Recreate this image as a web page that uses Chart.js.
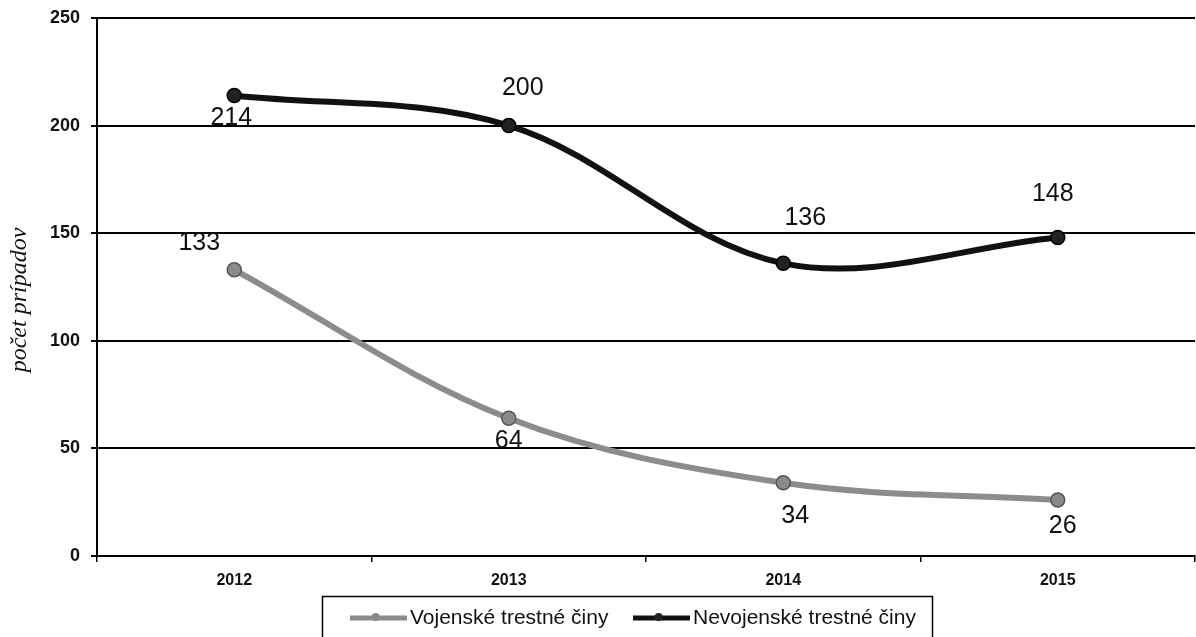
<!DOCTYPE html>
<html>
<head>
<meta charset="utf-8">
<script src="https://cdn.jsdelivr.net/npm/chart.js@4.4.1/dist/chart.umd.min.js"></script>
<style>
  html, body { margin: 0; padding: 0; background: #fff; overflow: hidden; }
  #wrap { width: 1196px; height: 637px; }
  canvas { display: block; }
</style>
</head>
<body>
<div id="wrap"><canvas id="c" width="1196" height="637"></canvas></div>
<script>
const categories = ['2012', '2013', '2014', '2015'];
const vojenske = [133, 64, 34, 26];
const nevojenske = [214, 200, 136, 148];
const seriesNames = ['Vojenské trestné činy', 'Nevojenské trestné činy'];
const yTicks = [0, 50, 100, 150, 200, 250];
const yTitle = 'počet prípadov';

// label placement offsets (px) relative to each point
const labelOffsets = [
  [[-35, -27], [0, 23], [12, 33], [5, 26]],
  [[-3, 23], [14, -37], [22, -45], [-5, -43]]
];

const dataLabelPlugin = {
  id: 'dataLabels',
  afterDatasetsDraw(chart) {
    const ctx = chart.ctx;
    ctx.save();
    ctx.font = '25px "Liberation Sans", Arial, sans-serif';
    ctx.fillStyle = '#111';
    ctx.textAlign = 'center';
    ctx.textBaseline = 'middle';
    chart.data.datasets.forEach((ds, di) => {
      const meta = chart.getDatasetMeta(di);
      meta.data.forEach((pt, i) => {
        const off = labelOffsets[di][i];
        ctx.fillText(String(ds.data[i]), pt.x + off[0], pt.y + off[1]);
      });
    });
    ctx.restore();
  }
};

const extrasPlugin = {
  id: 'extras',
  afterDraw(chart) {
    const ctx = chart.ctx;
    ctx.save();
    // y title
    ctx.save();
    ctx.translate(20, 300);
    ctx.rotate(-Math.PI / 2);
    ctx.font = 'italic 24px "Liberation Serif", "DejaVu Serif", serif';
    ctx.fillStyle = '#111';
    ctx.textAlign = 'center';
    ctx.textBaseline = 'middle';
    ctx.fillText(yTitle, 0, 0);
    ctx.restore();
    // legend
    ctx.strokeStyle = '#000';
    ctx.lineWidth = 1.5;
    ctx.strokeRect(322.5, 596.5, 610, 60);
    ctx.font = '21px "Liberation Sans", Arial, sans-serif';
    ctx.textBaseline = 'middle';
    ctx.textAlign = 'left';
    const y = 618;
    const starts = [350, 633];
    chart.data.datasets.forEach((ds, di) => {
      const x0 = starts[di];
      const sw = 57;
      ctx.strokeStyle = ds.borderColor;
      ctx.lineWidth = 5;
      ctx.beginPath();
      ctx.moveTo(x0, y);
      ctx.lineTo(x0 + sw, y);
      ctx.stroke();
      ctx.fillStyle = ds.pointBackgroundColor;
      ctx.beginPath();
      ctx.arc(x0 + sw * 0.45, y - 1, 4, 0, Math.PI * 2);
      ctx.fill();
      ctx.fillStyle = '#111';
      ctx.fillText(ds.label, x0 + sw + 3, y);
    });
    ctx.restore();
  }
};

new Chart(document.getElementById('c'), {
  type: 'line',
  data: {
    labels: categories,
    datasets: [
      {
        label: seriesNames[0],
        data: vojenske,
        borderColor: '#8c8c8c',
        backgroundColor: '#8c8c8c',
        pointBackgroundColor: '#8a8a8a',
        pointBorderColor: '#555',
        pointBorderWidth: 1.5,
        pointRadius: 7,
        borderWidth: 6,
        tension: 0.35,
        fill: false
      },
      {
        label: seriesNames[1],
        data: nevojenske,
        borderColor: '#111',
        backgroundColor: '#111',
        pointBackgroundColor: '#222',
        pointBorderColor: '#000',
        pointBorderWidth: 1.5,
        pointRadius: 7,
        borderWidth: 6,
        tension: 0.35,
        fill: false
      }
    ]
  },
  options: {
    responsive: false,
    animation: false,
    devicePixelRatio: 1,
    layout: { autoPadding: false, padding: { top: 18, right: 1, bottom: 41, left: 0 } },
    plugins: {
      legend: { display: false },
      tooltip: { enabled: false }
    },
    scales: {
      x: {
        type: 'category',
        offset: true,
        grid: {
          offset: true,
          drawOnChartArea: false,
          drawTicks: true,
          tickLength: 6,
          color: '#000',
          lineWidth: 1.5
        },
        border: { display: true, color: '#000', width: 2 },
        ticks: {
          color: '#111',
          padding: 9,
          font: { family: '"Liberation Sans", Arial, sans-serif', size: 16, weight: 'bold' }
        },
        afterFit(scale) { scale.height = 40; scale.paddingLeft = 0; scale.paddingRight = 0; }
      },
      y: {
        min: 0,
        max: 250,
        afterBuildTicks(scale) { scale.ticks = yTicks.map(v => ({ value: v })); },
        grid: {
          color: '#000',
          lineWidth: 2,
          drawTicks: true,
          tickLength: 6
        },
        border: { display: true, color: '#000', width: 2 },
        ticks: {
          color: '#111',
          padding: 11,
          font: { family: '"Liberation Sans", Arial, sans-serif', size: 18, weight: 'bold' }
        },
        afterFit(scale) { scale.width = 97; scale.paddingTop = 0; scale.paddingBottom = 0; }
      }
    }
  },
  plugins: [dataLabelPlugin, extrasPlugin]
});
</script>
</body>
</html>
